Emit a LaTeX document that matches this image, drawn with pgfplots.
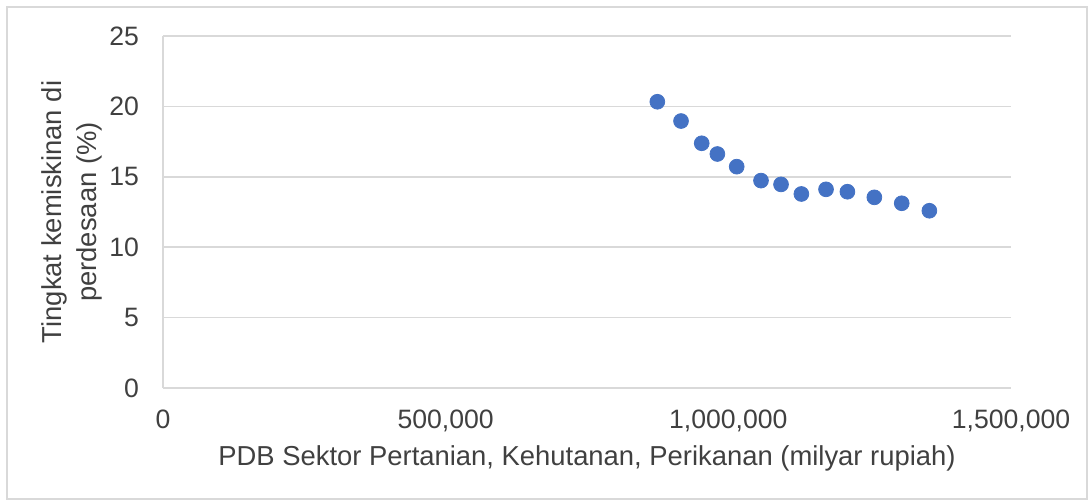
\documentclass[border=0pt]{standalone}
\usepackage{pgfplots}
\pgfplotsset{compat=1.18}
\usepackage{fontspec}
\setmainfont{Liberation Sans}
\definecolor{dotblue}{HTML}{4472C4}
\definecolor{gridgray}{HTML}{D9D9D9}
\definecolor{txtgray}{HTML}{404040}
\begin{document}
\begin{tikzpicture}
	\useasboundingbox (-81.5pt,-57pt) rectangle (464pt,194pt);
	\draw[gridgray, line width=0.6pt] (-78pt,-55.5pt) rectangle (462pt,190.5pt);
	\begin{axis}[
			at={(0pt,0pt)}, anchor=south west,
			scale only axis,
			width=424pt,
			height=176pt,
			xmin=0, xmax=1500000,
			ymin=0, ymax=25,
			xtick={0,500000,1000000,1500000},
			ytick={0,5,...,25},
			scaled x ticks=false,
			x tick label style={
				/pgf/number format/.cd,
				fixed,
				1000 sep={,},
				assume math mode=true,
				/tikz/.cd
			},
			y tick label style={/pgf/number format/assume math mode=true},
			tick label style={font=\fontsize{13.3}{16}\selectfont, text=txtgray},
			xticklabel style={yshift=-7.5pt},
			yticklabel style={xshift=-8.5pt},
			axis x line=bottom,
			axis y line=left,
			axis line style={gridgray, line width=0.8pt, -},
			major tick length=0pt,
			ymajorgrids,
			major grid style={gridgray, line width=0.8pt},
			xlabel={PDB Sektor Pertanian, Kehutanan, Perikanan (milyar rupiah)},
			ylabel={Tingkat kemiskinan di\\perdesaan (\%)},
			label style={font=\fontsize{13.7}{17.5}\selectfont, text=txtgray},
			xlabel style={at={(axis description cs:0.5,-0.199)}, anchor=center},
			ylabel style={at={(axis description cs:-0.107,0.5)}, anchor=center, align=center, rotate=0},
			clip=false
		]
		\addplot [only marks, mark=*, mark size=3.7pt, color=dotblue, mark options={fill=dotblue, draw=dotblue}] table {
		x	y
		874400	20.33
		916300	18.96
		952900	17.38
		980600	16.62
		1014800	15.72
		1057800	14.73
		1093200	14.46
		1129200	13.78
		1172800	14.11
		1210600	13.94
		1258300	13.54
		1306700	13.12
		1355600	12.59
		};
	\end{axis}
\end{tikzpicture}
\end{document}
